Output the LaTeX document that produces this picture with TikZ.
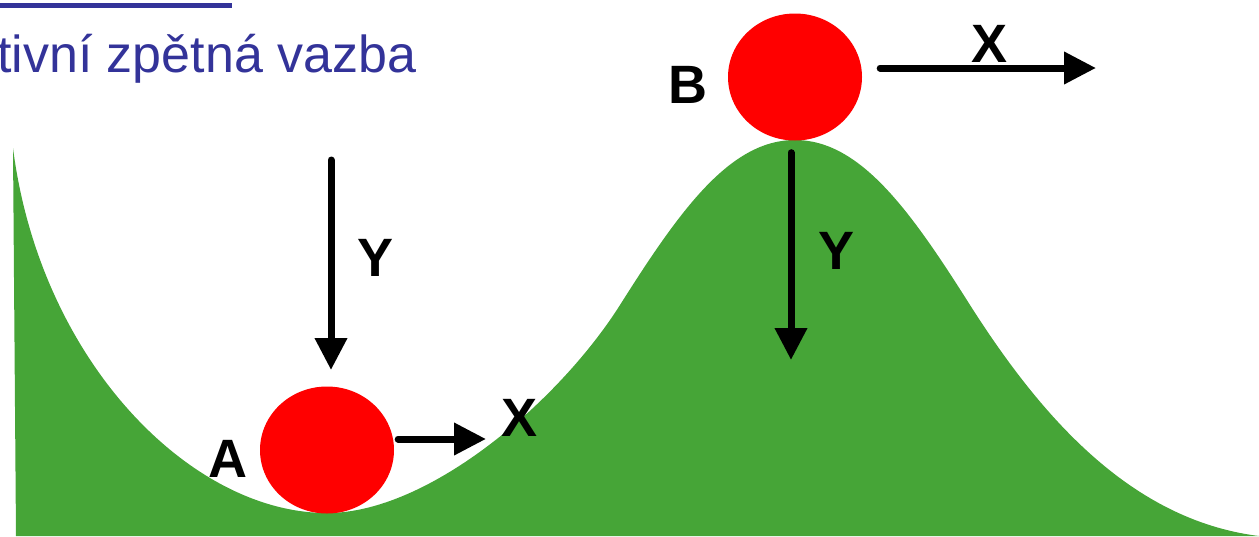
\documentclass[tikz,border=0pt]{standalone}
\usepackage{fontspec}
\setmainfont{Liberation Sans}
\usepackage{xcolor}
\usetikzlibrary{arrows.meta, positioning, shapes.geometric}
\definecolor{hillgreen}{RGB}{70,165,55}
\definecolor{titleblue}{RGB}{51,51,153}
\definecolor{ballred}{RGB}{255,0,0}

\begin{document}
\begin{tikzpicture}[x=1pt, y=-1pt,
  ball/.style={ellipse, fill=ballred, minimum width=134pt, minimum height=127pt, inner sep=0pt},
  force/.style={line width=7pt, line cap=round, -{Triangle[length=32pt, width=31pt]}},
  lbl/.style={inner sep=0pt, font=\fontsize{54pt}{60pt}\selectfont\bfseries}
]
  \useasboundingbox (0,0) rectangle (1259,536);
  \clip (0,0) rectangle (1259,536);

  % title, cut off by the frame
  \fill[titleblue] (0,3) rectangle (232,8);
  \node[anchor=base west, inner sep=0pt, text=titleblue,
        font=\fontsize{52pt}{60pt}\selectfont] (title) at (-3,72) {tivní zpětná vazba};

  % valley and hill
  \fill[hillgreen] (13,148) .. controls (40,360) and (190,513) .. (327,513)
    .. controls (430,513) and (560,400) .. (620,305)
    .. controls (680,210) and (730,140) .. (795,140)
    .. controls (860,140) and (910,210) .. (970,305)
    .. controls (1040,415) and (1130,520) .. (1259,536)
    -- (16,536) -- cycle;

  \node[ball] (ballA) at (327,450) {};
  \node[ball] (ballB) at (795,77) {};

  \coordinate (yAtail) at (331,160);
  \coordinate (yAtip)  at (331,370);
  \coordinate (xAtip)  at (486,439);
  \coordinate (yBtip)  at (791,360);
  \coordinate (xBtip)  at (1096,68);

  \draw[force] (yAtail) -- (yAtip);
  \draw[force] ([xshift=4pt, yshift=11pt]ballA.east) -- (xAtip);
  \draw[force] ([xshift=-4pt, yshift=-12pt]ballB.south) -- (yBtip);
  \draw[force] ([xshift=18pt, yshift=9pt]ballB.east) -- (xBtip);

  \node[lbl] (labA)  at (228,459) {A};
  \node[lbl] (labB)  at (688,85)  {B};
  \node[lbl] (labYA) at (376,258) {Y};
  \node[lbl] (labYB) at (837,251) {Y};
  \node[lbl] (labXA) at (520,418) {X};
  \node[lbl] (labXB) at (989,44)  {X};
\end{tikzpicture}
\end{document}
